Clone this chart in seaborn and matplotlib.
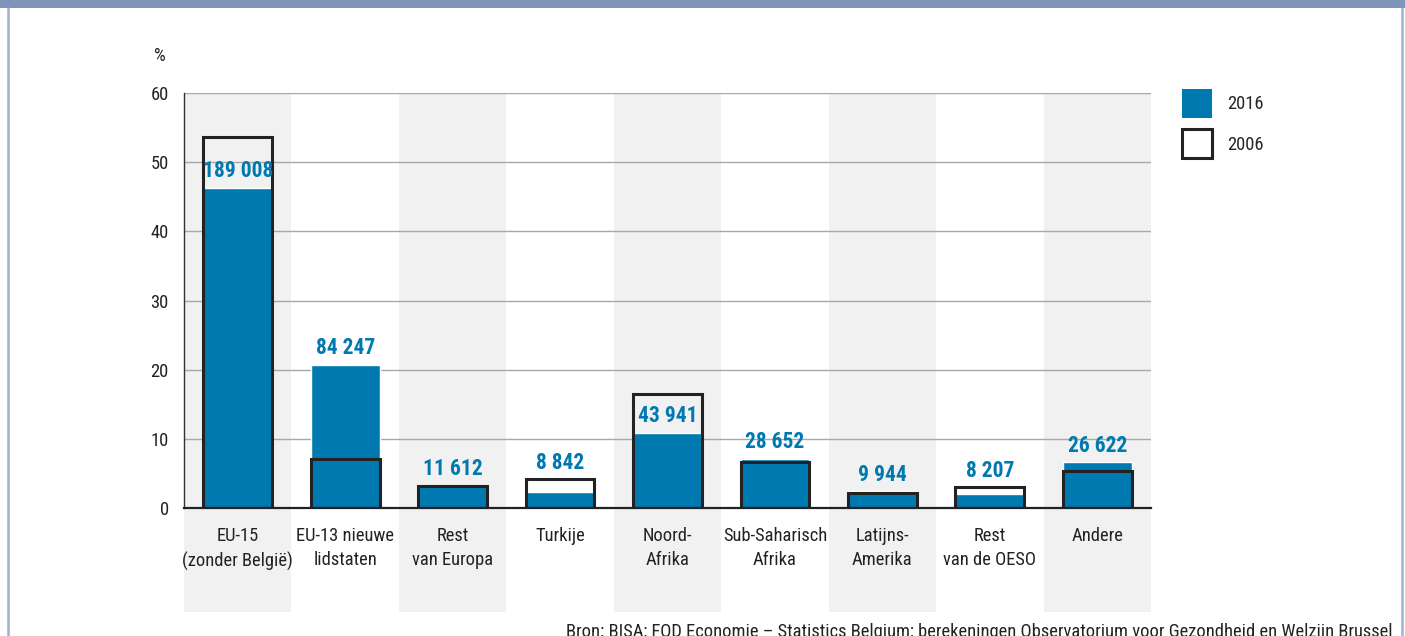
import numpy as np
import pandas as pd
import matplotlib.pyplot as plt
from matplotlib import font_manager as fm
from matplotlib.patches import Patch, Rectangle
from matplotlib.lines import Line2D
import seaborn as sns

categories = ["EU-15\n(zonder België)", "EU-13 nieuwe\nlidstaten", "Rest\nvan Europa", "Turkije",
              "Noord-\nAfrika", "Sub-Saharisch\nAfrika", "Latijns-\nAmerika", "Rest\nvan de OESO", "Andere"]
pct_2016 = [46.3, 20.7, 3.2, 2.3, 10.9, 7.1, 2.4, 2.0, 6.6]
pct_2006 = [53.6, 7.1, 3.2, 4.2, 16.5, 6.6, 2.2, 3.0, 5.4]
counts_2016 = ["189 008", "84 247", "11 612", "8 842", "43 941", "28 652", "9 944", "8 207", "26 622"]
source = "Bron: BISA; FOD Economie – Statistics Belgium; berekeningen Observatorium voor Gezondheid en Welzijn Brussel"

BLUE = "#0079b1"
DARK = "#222222"

sns.set_style("white")

# look for a condensed face (the original uses a narrow sans)
narrow = [f for f in fm.fontManager.ttflist
          if f.stretch in ("condensed", "semi-condensed", "extra-condensed")
          or "Narrow" in f.name or "Condensed" in f.name]
pref = ["Liberation Sans Narrow", "Roboto Condensed", "Open Sans Condensed", "Noto Sans",
        "Open Sans", "Roboto"]
fam = None
for p in pref:
    if any(f.name == p for f in narrow):
        fam = p
        break
if fam is None and narrow:
    fam = narrow[0].name
if fam is None:
    fam = "Roboto"
plt.rcParams["font.family"] = [fam, "DejaVu Sans"]
if any(f.name == fam and f.stretch != "normal" for f in narrow):
    plt.rcParams["font.stretch"] = "condensed"

df = pd.DataFrame({"cat": categories, "y2016": pct_2016, "y2006": pct_2006})

fig = plt.figure(figsize=(14.05, 6.36), dpi=100)
ax = fig.add_axes([184 / 1405, 128 / 636, 967 / 1405, 415 / 636])

# alternating grey bands behind the categories
for i in range(0, len(categories), 2):
    ax.axvspan(i - 0.5, i + 0.5, ymin=-104 / 415, ymax=1, color="#f1f1f1", zorder=0,
               clip_on=False, lw=0)

sns.barplot(data=df, x="cat", y="y2016", color=BLUE, width=0.64, saturation=1, ax=ax, zorder=2)
sns.barplot(data=df, x="cat", y="y2006", fill=False, color=DARK, width=0.64, linewidth=2.2,
            ax=ax, zorder=3)

ax.set_xlim(-0.5, len(categories) - 0.5)
ax.set_ylim(0, 60)
ax.set_yticks(range(0, 61, 10))
ax.yaxis.grid(True, color="#a8a8a8", lw=1)
ax.set_axisbelow(True)
for g in ax.get_ygridlines():
    g.set_zorder(1)
ax.set_xlabel("")
ax.set_ylabel("")
ax.tick_params(axis="both", length=0, labelsize=13.3, colors="#222222")
ax.tick_params(axis="y", pad=11)
ax.tick_params(axis="x", pad=14)
for lab in ax.get_xticklabels():
    lab.set_linespacing(1.42)
    lab.set_verticalalignment("top")

for s in ["top", "right"]:
    ax.spines[s].set_visible(False)
ax.spines["left"].set_color("#333333")
ax.spines["left"].set_linewidth(1)
ax.spines["bottom"].set_color(DARK)
ax.spines["bottom"].set_linewidth(1.6)
ax.spines["bottom"].set_zorder(4)

# value labels
for i, (v16, v06, lab) in enumerate(zip(pct_2016, pct_2006, counts_2016)):
    base = max(v16, v06) if v06 - v16 < 3 else v16
    ax.annotate(lab, (i, base), xytext=(0, 7.5), textcoords="offset points",
                ha="center", va="baseline", fontsize=15.5, fontweight="bold", color=BLUE,
                zorder=5)

ax.text((160 - 184) / 967, (508 - 56) / 415, "%", transform=ax.transAxes, ha="center",
        va="center", fontsize=13.3, color="#222222")

handles = [Patch(facecolor=BLUE, edgecolor=BLUE, lw=0),
           Patch(facecolor="white", edgecolor=DARK, lw=2.2)]
fig.legend(handles, ["2016", "2006"], loc="upper left", bbox_to_anchor=(1182 / 1405, 1 - 89 / 636),
           frameon=False, fontsize=13.3, handlelength=1.62, handleheight=2.05,
           labelspacing=0.6, handletextpad=0.8, borderpad=0, borderaxespad=0)

# title band and frame
fig.patches.append(Rectangle((0, 1 - 8 / 636), 1, 8 / 636, transform=fig.transFigure,
                             facecolor="#7e95b8", lw=0, zorder=0))
fig.lines.append(Line2D([8 / 1405, 8 / 1405], [0, 1 - 8 / 636], transform=fig.transFigure,
                        color="#9fb1cc", lw=1.8))
fig.lines.append(Line2D([1402 / 1405, 1402 / 1405], [0, 1 - 8 / 636], transform=fig.transFigure,
                        color="#9fb1cc", lw=1.8))

fig.text(1392 / 1405, -1 / 636, source, ha="right", va="baseline", fontsize=13.3, color="#222222")

fig.savefig("out.png", dpi=100)
